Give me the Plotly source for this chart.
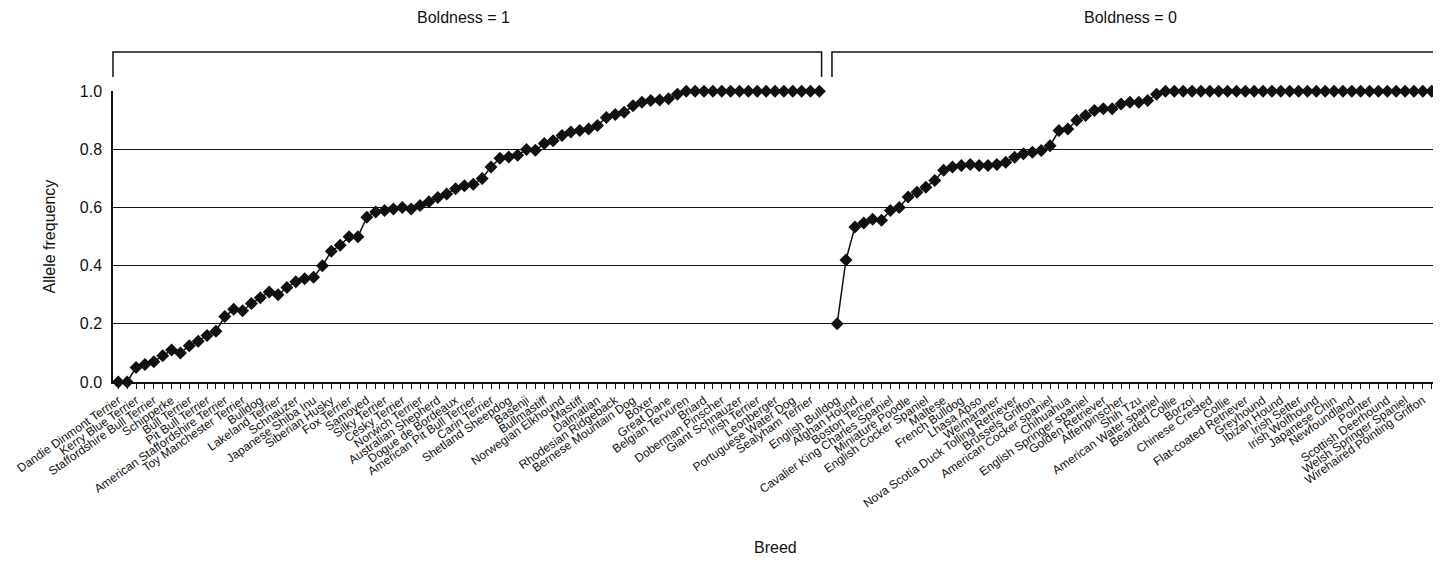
import plotly.graph_objects as go

# ---------------- data ----------------
breeds_bold1 = [
    "Dandie Dinmont Terrier", "Kerry Blue Terrier", "Staffordshire Bull Terrier", "Schipperke",
    "Bull Terrier", "Pit Bull Terrier", "American Staffordshire Terrier", "Toy Manchester Terrier",
    "Bulldog", "Lakeland Terrier", "Schnauzer", "Japanese Shiba Inu", "Siberian Husky",
    "Fox Terrier", "Samoyed", "Silky Terrier", "Cesky Terrier", "Norwich Terrier",
    "Australian Shepherd", "Dogue de Bordeaux", "American Pit Bull Terrier", "Carin Terrier",
    "Shetland Sheepdog", "Basenji", "Bullmastiff", "Norwegian Elkhound", "Mastiff", "Dalmatian",
    "Rhodesian Ridgeback", "Bernese Mountain Dog", "Boxer", "Great Dane", "Belgian Tervuren",
    "Briard", "Doberman Pinscher", "Giant Schnauzer", "Irish Terrier", "Leonberger",
    "Portuguese Water Dog", "Sealyham Terrier",
]
breeds_bold0 = [
    "English Bulldog", "Afghan Hound", "Boston Terrier", "Cavalier King Charles Spaniel",
    "Miniature Poodle", "English Cocker Spaniel", "Maltese", "French Bulldog", "Lhasa Apso",
    "Weimaraner", "Nova Scotia Duck Tolling Retriever", "Brussels Griffon",
    "American Cocker spaniel", "Chihuahua", "English Springer spaniel", "Golden Retriever",
    "Affenpinscher", "Shih Tzu", "American Water spaniel", "Bearded Collie", "Borzoi",
    "Chinese Crested", "Collie", "Flat-coated Retriever", "Greyhound", "Ibizan Hound",
    "Irish Setter", "Irish Wolfhound", "Japanese Chin", "Newfoundland", "Pointer",
    "Scottish Deerhound", "Welsh Springer Spaniel", "Wirehaired Pointing Griffon",
]

freq_bold1 = [
    0.0, 0.0, 0.05, 0.06, 0.07, 0.09, 0.11, 0.10, 0.125, 0.14,
    0.16, 0.175, 0.225, 0.25, 0.245, 0.27, 0.29, 0.31, 0.30, 0.325,
    0.345, 0.355, 0.36, 0.40, 0.45, 0.47, 0.50, 0.50, 0.567, 0.585,
    0.59, 0.595, 0.60, 0.595, 0.607, 0.62, 0.635, 0.647, 0.665, 0.675,
    0.68, 0.70, 0.74, 0.77, 0.774, 0.78, 0.80, 0.797, 0.82, 0.83,
    0.848, 0.86, 0.865, 0.87, 0.882, 0.91, 0.92, 0.928, 0.95, 0.962,
    0.968, 0.97, 0.974, 0.99, 1.0, 1.0, 1.0, 1.0, 1.0, 1.0,
    1.0, 1.0, 1.0, 1.0, 1.0, 1.0, 1.0, 1.0, 1.0, 1.0,
]
freq_bold0 = [
    0.20, 0.42, 0.533, 0.547, 0.56, 0.556, 0.59, 0.60, 0.636, 0.653,
    0.67, 0.693, 0.728, 0.74, 0.745, 0.748, 0.745, 0.745, 0.748, 0.756,
    0.773, 0.785, 0.79, 0.796, 0.813, 0.865, 0.87, 0.90, 0.917, 0.934,
    0.94, 0.94, 0.956, 0.962, 0.962, 0.968, 0.99, 1.0, 1.0, 1.0,
    1.0, 1.0, 1.0, 1.0, 1.0, 1.0, 1.0, 1.0, 1.0, 1.0,
    1.0, 1.0, 1.0, 1.0, 1.0, 1.0, 1.0, 1.0, 1.0, 1.0,
    1.0, 1.0, 1.0, 1.0, 1.0, 1.0, 1.0, 1.0,
]
y_ticks = [0.0, 0.2, 0.4, 0.6, 0.8, 1.0]

# ---------------- positions (category slots) ----------------
n1 = len(freq_bold1)
x1 = list(range(n1))
x0 = list(range(n1 + 1, n1 + 1 + len(freq_bold0)))  # one empty slot between groups
tickvals = [2 * i for i in range(len(breeds_bold1))] + [x0[0] + 2 * i for i in range(len(breeds_bold0))]
ticktext = breeds_bold1 + breeds_bold0
xmin, xmax = -0.6, x0[-1] + 0.6

def px(v):
    return (v - xmin) / (xmax - xmin)

FONT = "Liberation Sans, Arial, Helvetica, sans-serif"
INK = "#111111"

fig = go.Figure()
for xs, ys in ((x1, freq_bold1), (x0, freq_bold0)):
    fig.add_trace(go.Scatter(
        x=xs, y=ys, mode="lines+markers",
        line=dict(color=INK, width=1.5),
        marker=dict(symbol="diamond", size=10, color=INK),
        cliponaxis=False, showlegend=False,
    ))

# page body has an 8px default margin -> figure offset compensated here
fig.update_layout(
    width=1433, height=556,
    margin=dict(l=105, r=4, t=83, b=182),
    paper_bgcolor="white", plot_bgcolor="white",
    font=dict(family=FONT, color=INK),
    showlegend=False,
)
fig.update_xaxes(
    range=[xmin, xmax], tickmode="array", tickvals=tickvals, ticktext=ticktext,
    tickangle=-35, tickfont=dict(size=12, family=FONT, color=INK),
    showgrid=False, zeroline=False, automargin=False,
    showline=True, linecolor=INK, linewidth=1.5,
    ticks="outside", ticklen=5, tickcolor=INK, tickwidth=1,
    minor=dict(dtick=1, tick0=0, ticks="outside", ticklen=5, tickcolor=INK, tickwidth=1, showgrid=False),
)
fig.update_yaxes(
    range=[0, 1.001], tickmode="array", tickvals=y_ticks,
    ticktext=[f"{v:.1f}" for v in y_ticks],
    tickfont=dict(size=16, family=FONT, color=INK), ticklabelstandoff=6,
    showgrid=True, gridcolor=INK, gridwidth=1, automargin=False,
    zeroline=False, showline=True, linecolor=INK, linewidth=1.5, ticks="",
)

# brackets for groups
yb_top, yb_bot = 1.134, 1.048
brackets = [(xmin, 79.25, "Boldness = 1"), (80.42, xmax, "Boldness = 0")]
for a, b, label in brackets:
    pa, pb = px(a), px(b)
    fig.add_shape(type="path", xref="paper", yref="paper",
                  path=f"M {pa} {yb_bot} L {pa} {yb_top} L {pb} {yb_top} L {pb} {yb_bot}",
                  line=dict(color=INK, width=1.5))
    fig.add_annotation(x=(pa + pb) / 2 - 0.003, y=1.254, xref="paper", yref="paper",
                       text=label, showarrow=False, font=dict(size=16, family=FONT, color=INK),
                       xanchor="center", yanchor="middle")

fig.add_annotation(x=-0.0476, y=0.5, xref="paper", yref="paper", text="Allele frequency",
                   textangle=-90, showarrow=False, font=dict(size=16, family=FONT, color=INK),
                   xanchor="center", yanchor="middle")
fig.add_annotation(x=0.5, y=-0.57, xref="paper", yref="paper", text="Breed",
                   showarrow=False, font=dict(size=16, family=FONT, color=INK),
                   xanchor="center", yanchor="middle")

fig.write_html("out.html")
